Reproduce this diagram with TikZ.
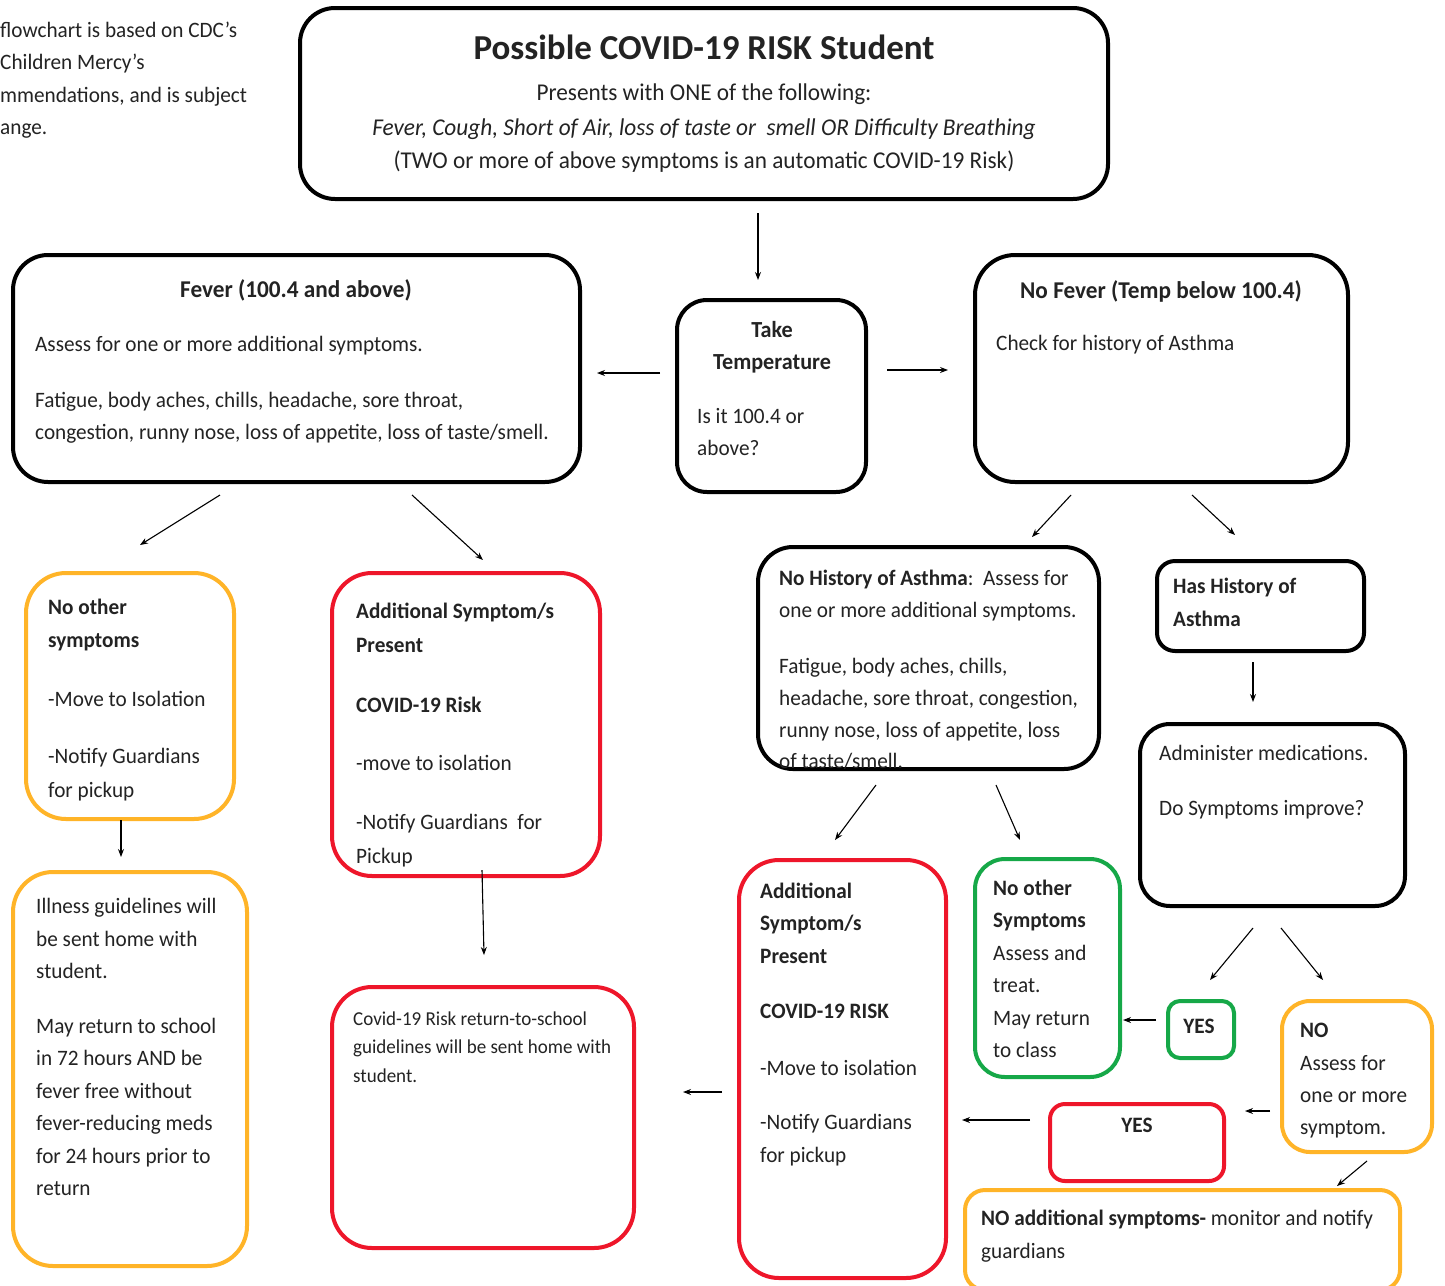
\documentclass[tikz,border=0pt]{standalone}
\usepackage{fontspec}
\setmainfont{Carlito}[FakeStretch=0.965]
\newfontfamily\ttlfont{Carlito}
\usetikzlibrary{arrows.meta}
\definecolor{tc}{RGB}{35,35,35}
\definecolor{orng}{RGB}{255,180,40}
\definecolor{rd}{RGB}{238,22,42}
\definecolor{grn}{RGB}{22,168,72}
\newcommand\mytl[4]{\node[txt] (#1) at (#2,#3) {#4};}
\newcommand\myctl[4]{\node[ctxt] (#1) at (#2,#3) {#4};}
\begin{document}
\begin{tikzpicture}[x=1pt,y=-1pt,
  txt/.style={anchor=base west,inner sep=0pt,text=tc,font=\fontsize{22}{26}\selectfont},
  ctxt/.style={txt,anchor=base},
  box/.style={draw,line width=4pt,rounded corners=#1,inner sep=0pt},
  box/.default=35pt,
  arr/.style={line width=1.1pt,-{Stealth[length=8pt,width=6pt]}}]
\useasboundingbox (0,0) rectangle (1445,1285);
\clip (0,0) rectangle (1445,1285);
\fill[white] (0,0) rectangle (1445,1285);
% top-left note (cut off in the original)
\mytl{n1}{0}{37}{flowchart is based on CDC’s}
\mytl{n2}{0}{69}{Children Mercy’s}
\mytl{n3}{0}{102}{mmendations, and is subject}
\mytl{n4}{0}{134}{ange.}
% boxes
\node[box, minimum width=808pt, minimum height=191pt] (top) at (704,103.5) {};
\node[box=30pt, minimum width=189pt, minimum height=192pt] (take) at (771.5,396) {};
\node[box, minimum width=567pt, minimum height=227pt] (fever) at (296.5,368.5) {};
\node[box=40pt, minimum width=373pt, minimum height=227pt] (nofever) at (1161.5,368.5) {};
\node[box=40pt, draw=orng, minimum width=208pt, minimum height=246pt] (noother) at (130,696) {};
\node[box=40pt, draw=rd, minimum width=268pt, minimum height=303pt] (addl) at (466,724.5) {};
\node[box=40pt, draw=orng, minimum width=234pt, minimum height=394pt] (illness) at (130,1069) {};
\node[box=40pt, draw=rd, minimum width=302pt, minimum height=261pt] (covid) at (483,1117.5) {};
\node[box, minimum width=341pt, minimum height=222pt] (nohist) at (928.5,658) {};
\node[box=18pt, minimum width=207pt, minimum height=90pt] (hashist) at (1260.5,606) {};
\node[box=30pt, minimum width=265pt, minimum height=182pt] (admin) at (1272.5,815) {};
\node[box=40pt, draw=rd, minimum width=207pt, minimum height=418pt] (bigred) at (842.5,1069) {};
\node[box=30pt, draw=grn, minimum width=145pt, minimum height=218pt] (green) at (1047.5,968) {};
\node[box=12pt, draw=grn, minimum width=66pt, minimum height=57pt] (yesg) at (1201,1029.5) {};
\node[box=28pt, draw=orng, minimum width=150pt, minimum height=151pt] (nob) at (1357,1076.5) {};
\node[box=15pt, draw=rd, minimum width=174pt, minimum height=77pt] (yesr) at (1137,1142.5) {};
\node[box=20pt, draw=orng, minimum width=435pt, minimum height=100pt] (noadd) at (1182.5,1240) {};
% top box text
\node[ctxt,font=\ttlfont\fontsize{35}{40}\selectfont\bfseries] (tt) at (704,59) {Possible COVID-19 RISK Student};
\node[ctxt,font=\fontsize{24.1}{28}\selectfont] (t2) at (704,100) {Presents with ONE of the following:};
\node[ctxt,font=\fontsize{24.1}{28}\selectfont\itshape] (t3) at (704,135) {Fever, Cough, Short of Air, loss of taste or\ \ smell OR Difficulty Breathing};
\node[ctxt,font=\fontsize{24.1}{28}\selectfont] (t4) at (704,168) {(TWO or more of above symptoms is an automatic COVID-19 Risk)};
% take temperature
\node[ctxt,font=\fontsize{23}{26}\selectfont\bfseries] (k1) at (772,337) {Take};
\node[ctxt,font=\fontsize{23}{26}\selectfont\bfseries] (k2) at (772,369) {Temperature};
\mytl{k3}{697}{423}{Is it 100.4 or}
\mytl{k4}{697}{455}{above?}
% fever
\node[ctxt,font=\fontsize{24.1}{28}\selectfont\bfseries] (f1) at (296,297) {Fever (100.4 and above)};
\mytl{f2}{35}{351}{Assess for one or more additional symptoms.}
\mytl{f3}{35}{407}{Fatigue, body aches, chills, headache, sore throat,}
\mytl{f4}{35}{439}{congestion, runny nose, loss of appetite, loss of taste/smell.}
% no fever
\node[ctxt,font=\fontsize{24.1}{28}\selectfont\bfseries] (g1) at (1161,298) {No Fever (Temp below 100.4)};
\mytl{g2}{996}{350}{Check for history of Asthma}
% no other symptoms
\mytl{o1}{48}{614}{\bfseries No other}
\mytl{o2}{48}{647}{\bfseries symptoms}
\mytl{o3}{48}{706}{-Move to Isolation}
\mytl{o4}{48}{763}{-Notify Guardians}
\mytl{o5}{48}{797}{for pickup}
% additional left
\mytl{d1}{356}{618}{\bfseries Additional Symptom/s}
\mytl{d2}{356}{652}{\bfseries Present}
\mytl{d3}{356}{712}{\bfseries COVID-19 Risk}
\mytl{d4}{356}{770}{-move to isolation}
\mytl{d5}{356}{829}{-Notify Guardians\ \ for}
\mytl{d6}{356}{863}{Pickup}
% illness
\mytl{i1}{36}{913}{Illness guidelines will}
\mytl{i2}{36}{946}{be sent home with}
\mytl{i3}{36}{978}{student.}
\mytl{i4}{36}{1033}{May return to school}
\mytl{i5}{36}{1065}{in 72 hours AND be}
\mytl{i6}{36}{1098}{fever free without}
\mytl{i7}{36}{1130}{fever-reducing meds}
\mytl{i8}{36}{1163}{for 24 hours prior to}
\mytl{i9}{36}{1195}{return}
% covid return
\node[txt,font=\fontsize{19.7}{22}\selectfont] (c1) at (353,1025) {Covid-19 Risk return-to-school};
\node[txt,font=\fontsize{19.7}{22}\selectfont] (c2) at (353,1053) {guidelines will be sent home with};
\node[txt,font=\fontsize{19.7}{22}\selectfont] (c3) at (353,1082) {student.};
% no history
\mytl{h1}{779}{585}{\textbf{No History of Asthma}:\ \ Assess for}
\mytl{h2}{779}{617}{one or more additional symptoms.}
\mytl{h3}{779}{673}{Fatigue, body aches, chills,}
\mytl{h4}{779}{705}{headache, sore throat, congestion,}
\mytl{h5}{779}{737}{runny nose, loss of appetite, loss}
\mytl{h6}{779}{768}{of taste/smell.}
% has history
\mytl{s1}{1173}{593}{\bfseries Has History of}
\mytl{s2}{1173}{626}{\bfseries Asthma}
% administer
\mytl{m1}{1159}{760}{Administer medications.}
\mytl{m2}{1159}{815}{Do Symptoms improve?}
% big red
\mytl{b1}{760}{898}{\bfseries Additional}
\mytl{b2}{760}{930}{\bfseries Symptom/s}
\mytl{b3}{760}{963}{\bfseries Present}
\mytl{b4}{760}{1018}{\bfseries COVID-19 RISK}
\mytl{b5}{760}{1075}{-Move to isolation}
\mytl{b6}{760}{1129}{-Notify Guardians}
\mytl{b7}{760}{1162}{for pickup}
% green
\mytl{e1}{993}{895}{\bfseries No other}
\mytl{e2}{993}{927}{\bfseries Symptoms}
\mytl{e3}{993}{960}{Assess and}
\mytl{e4}{993}{992}{treat.}
\mytl{e5}{993}{1025}{May return}
\mytl{e6}{993}{1057}{to class}
% yes green
\myctl{y1}{1199}{1033}{\bfseries YES}
% no
\mytl{q1}{1300}{1037}{\bfseries NO}
\mytl{q2}{1300}{1070}{Assess for}
\mytl{q3}{1300}{1102}{one or more}
\mytl{q4}{1300}{1134}{symptom.}
% yes red
\myctl{r1}{1137}{1132}{\bfseries YES}
% no additional
\mytl{p1}{981}{1225}{\textbf{NO additional symptoms-} monitor and notify}
\mytl{p2}{981}{1258}{guardians}
% connector end points
\coordinate (a0s) at (758,213); \coordinate (a0e) at (758,280);
\coordinate (a1s) at (660,373); \coordinate (a1e) at (597,373);
\coordinate (a2s) at (887,370); \coordinate (a2e) at (948,370);
\coordinate (a3s) at (220,495); \coordinate (a3e) at (140,545);
\coordinate (a4s) at (412,495); \coordinate (a4e) at (483,560);
\coordinate (a5s) at (1071,495); \coordinate (a5e) at (1032,537);
\coordinate (a6s) at (1192,495); \coordinate (a6e) at (1235,535);
\coordinate (a7s) at (121,820); \coordinate (a7e) at (121,857);
\coordinate (a8s) at (482,870); \coordinate (a8e) at (484,955);
\coordinate (a9s) at (1253,662); \coordinate (a9e) at (1253,702);
\coordinate (a10s) at (876,785); \coordinate (a10e) at (835,840);
\coordinate (a11s) at (996,785); \coordinate (a11e) at (1020,840);
\coordinate (a12s) at (1253,928); \coordinate (a12e) at (1210,980);
\coordinate (a13s) at (1281,928); \coordinate (a13e) at (1323,980);
\coordinate (a14s) at (1156,1020); \coordinate (a14e) at (1123,1020);
\coordinate (a15s) at (1270,1111); \coordinate (a15e) at (1245,1111);
\coordinate (a16s) at (1030,1120); \coordinate (a16e) at (962,1120);
\coordinate (a17s) at (722,1092); \coordinate (a17e) at (683,1092);
\coordinate (a18s) at (1367,1161); \coordinate (a18e) at (1337,1186);
\foreach \i in {0,...,18} {\draw[arr] (a\i s) -- (a\i e);}
\end{tikzpicture}
\end{document}
